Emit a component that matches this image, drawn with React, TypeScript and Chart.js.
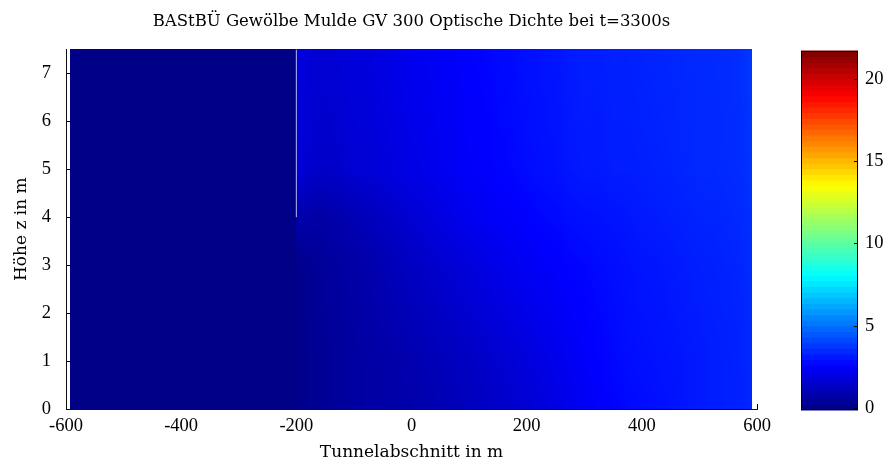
import React, { useEffect, useRef } from "react";
import { Chart, registerables } from "chart.js";

Chart.register(...registerables);

// ---- data -----------------------------------------------------------
const TITLE = "BAStBÜ Gewölbe Mulde GV 300 Optische Dichte bei t=3300s";
const X_LABEL = "Tunnelabschnitt in m";
const Y_LABEL = "Höhe z in m";

const X_TICKS = [-600, -400, -200, 0, 200, 400, 600];
const Y_TICKS = [0, 1, 2, 3, 4, 5, 6, 7];
const CB_TICKS = [0, 5, 10, 15, 20];
const C_MIN = -0.12;
const C_MAX = 21.7;

// tunnel positions (m) of the grid columns
const X_NODES = [-593, -201, -199, -175, -150, -125, -100, -75, -50, -25, 0, 25, 50, 75, 100, 125, 150, 175, 200, 225, 250, 275, 300, 325, 350, 375, 400, 425, 450, 475, 500, 525, 550, 575, 591];
// heights (m) of the grid rows
const Z_NODES = [0, 1, 3, 4, 5, 7.5];

// optical density per row
const OD_Z0 = [0.05, 0.05, 0.15, 0.26, 0.37, 0.48, 0.585, 0.64, 0.7, 0.75, 0.8, 0.9, 1.0, 1.1, 1.22, 1.32, 1.44, 1.55, 1.65, 1.82, 2.0, 2.2, 2.39, 2.52, 2.65, 2.75, 2.82, 2.9, 2.98, 3.06, 3.14, 3.2, 3.25, 3.3, 3.4];
const OD_Z1 = [0.05, 0.05, 0.15, 0.26, 0.37, 0.5, 0.585, 0.66, 0.74, 0.82, 0.9, 1.0, 1.12, 1.22, 1.33, 1.45, 1.6, 1.72, 1.86, 2.02, 2.18, 2.36, 2.5, 2.62, 2.74, 2.85, 2.93, 2.98, 3.03, 3.08, 3.14, 3.2, 3.26, 3.34, 3.45];
const OD_Z3 = [0.05, 0.05, 0.15, 0.32, 0.48, 0.6, 0.69, 0.85, 1.0, 1.15, 1.33, 1.45, 1.6, 1.72, 1.86, 2.0, 2.14, 2.26, 2.39, 2.48, 2.55, 2.66, 2.71, 2.8, 2.86, 2.95, 3.03, 3.06, 3.12, 3.18, 3.24, 3.28, 3.34, 3.42, 3.55];
const OD_Z4 = [0.05, 0.05, 0.9, 0.72, 0.69, 0.85, 1.01, 1.15, 1.3, 1.48, 1.65, 1.8, 1.98, 2.12, 2.29, 2.35, 2.46, 2.52, 2.61, 2.7, 2.76, 2.86, 2.93, 2.95, 3.02, 3.06, 3.14, 3.18, 3.24, 3.28, 3.35, 3.36, 3.42, 3.48, 3.6];
const OD_Z5 = [0.05, 0.05, 1.85, 1.55, 1.44, 1.55, 1.65, 1.72, 1.84, 1.95, 2.07, 2.15, 2.3, 2.38, 2.5, 2.55, 2.66, 2.72, 2.82, 2.9, 2.96, 3.08, 3.14, 3.12, 3.2, 3.2, 3.24, 3.3, 3.34, 3.4, 3.46, 3.45, 3.5, 3.55, 3.7];
const OD_Z75 = [0.05, 0.05, 1.95, 1.72, 1.65, 1.78, 1.86, 1.92, 2.02, 2.12, 2.29, 2.33, 2.45, 2.5, 2.61, 2.66, 2.78, 2.82, 2.93, 3.0, 3.05, 3.16, 3.24, 3.22, 3.3, 3.28, 3.35, 3.38, 3.4, 3.44, 3.46, 3.5, 3.52, 3.62, 3.8];
const OD_ROWS = [OD_Z0, OD_Z1, OD_Z3, OD_Z4, OD_Z5, OD_Z75];

// thin gap line in the measurement grid
const GAP_X = [-200, -200];
const GAP_Z = [4, 7.5];

// ---- helpers ---------------------------------------------------------
const TICK_FONT = "'Liberation Serif', serif";
const TEXT_FONT = "'DejaVu Serif', serif";

function clamp01(v: number) {
  return v < 0 ? 0 : v > 1 ? 1 : v;
}
function jet(t: number): [number, number, number] {
  t = clamp01(t);
  const r = clamp01(1.5 - Math.abs(4 * t - 3));
  const g = clamp01(1.5 - Math.abs(4 * t - 2));
  const b = clamp01(1.5 - Math.abs(4 * t - 1));
  return [Math.round(r * 255), Math.round(g * 255), Math.round(b * 255)];
}
function findIdx(arr: number[], v: number) {
  let i = 0;
  while (i < arr.length - 2 && v > arr[i + 1]) i++;
  return i;
}

const heatmapPlugin = {
  id: "heatmap",
  beforeDatasetsDraw(chart: any) {
    const { ctx, chartArea: a, scales } = chart;
    const xs = scales.x;
    const ys = scales.y;
    ctx.save();
    // inward tick marks (lie under the field, like the original)
    ctx.strokeStyle = "#000";
    ctx.lineWidth = 1;
    Y_TICKS.forEach((v) => {
      const py = Math.round(ys.getPixelForValue(v)) + 0.5;
      ctx.beginPath();
      ctx.moveTo(a.left, py);
      ctx.lineTo(a.left + 5, py);
      ctx.stroke();
    });
    X_TICKS.forEach((v) => {
      const px = Math.round(xs.getPixelForValue(v)) + 0.5;
      ctx.beginPath();
      ctx.moveTo(px, a.bottom);
      ctx.lineTo(px, a.bottom - 5);
      ctx.stroke();
    });

    const xa = xs.getPixelForValue(X_NODES[0]);
    const xb = xs.getPixelForValue(X_NODES[X_NODES.length - 1]);
    const ya = ys.getPixelForValue(Z_NODES[Z_NODES.length - 1]);
    const yb = ys.getPixelForValue(Z_NODES[0]);
    const x0 = Math.floor(xa);
    const x1 = Math.ceil(xb);
    const y0 = Math.floor(ya);
    const y1 = Math.ceil(yb);
    const w = x1 - x0;
    const h = y1 - y0;
    const off = document.createElement("canvas");
    off.width = w;
    off.height = h;
    const octx = off.getContext("2d")!;
    const img = octx.createImageData(w, h);
    const xFirst = X_NODES[0];
    const xLast = X_NODES[X_NODES.length - 1];
    for (let j = 0; j < h; j++) {
      let zv = ys.getValueForPixel(y0 + j + 0.5);
      zv = Math.max(Z_NODES[0], Math.min(Z_NODES[Z_NODES.length - 1], zv));
      const r = findIdx(Z_NODES, zv);
      const fz = (zv - Z_NODES[r]) / (Z_NODES[r + 1] - Z_NODES[r]);
      const rowA = OD_ROWS[r];
      const rowB = OD_ROWS[r + 1];
      for (let i = 0; i < w; i++) {
        const xv = xs.getValueForPixel(x0 + i + 0.5);
        const k = (j * w + i) * 4;
        if (xv < xFirst - 0.3 || xv > xLast + 0.3) {
          img.data[k + 3] = 0;
          continue;
        }
        const xc = Math.max(xFirst, Math.min(xLast, xv));
        const c = findIdx(X_NODES, xc);
        const fx = (xc - X_NODES[c]) / (X_NODES[c + 1] - X_NODES[c]);
        const top = rowB[c] * (1 - fx) + rowB[c + 1] * fx;
        const bot = rowA[c] * (1 - fx) + rowA[c + 1] * fx;
        const v = bot * (1 - fz) + top * fz;
        const [cr, cg, cb] = jet((v - C_MIN) / (C_MAX - C_MIN));
        img.data[k] = cr;
        img.data[k + 1] = cg;
        img.data[k + 2] = cb;
        img.data[k + 3] = 255;
      }
    }
    octx.putImageData(img, 0, 0);
    ctx.drawImage(off, x0, y0);
    ctx.restore();
  },
};

const colorbarPlugin = {
  id: "colorbar",
  beforeDatasetsDraw(chart: any) {
    const { ctx, chartArea: a, scales } = chart;
    const ys = scales.y;
    const n = 64;
    ctx.save();
    for (let k = 0; k < n; k++) {
      const v0 = C_MIN + (k * (C_MAX - C_MIN)) / n;
      const v1 = C_MIN + ((k + 1) * (C_MAX - C_MIN)) / n;
      const p0 = ys.getPixelForValue(v0);
      const p1 = ys.getPixelForValue(v1);
      const [r, g, b] = jet((k + 0.5) / n);
      ctx.fillStyle = `rgb(${r},${g},${b})`;
      ctx.fillRect(a.left, p1 - 0.5, a.right - a.left, p0 - p1 + 1);
    }
    ctx.strokeStyle = "#000";
    ctx.lineWidth = 1;
    ctx.strokeRect(Math.round(a.left) + 0.5, Math.round(a.top) + 0.5, Math.round(a.right - a.left) - 1, Math.round(a.bottom - a.top) - 1);
    CB_TICKS.forEach((v) => {
      const py = Math.round(ys.getPixelForValue(v)) + 0.5;
      ctx.beginPath();
      ctx.moveTo(a.right - 4, py);
      ctx.lineTo(a.right, py);
      ctx.stroke();
    });
    ctx.restore();
  },
};

export default function App() {
  const mainRef = useRef<HTMLCanvasElement>(null);
  const cbRef = useRef<HTMLCanvasElement>(null);

  useEffect(() => {
    const tickFont = { family: TICK_FONT, size: 18.5, weight: "normal" as const };
    const titleFont = { family: TEXT_FONT, size: 16.5, weight: "normal" as const };
    const axisFont = { family: TEXT_FONT, size: 17, weight: "normal" as const };
    const main = new Chart(mainRef.current!, {
      type: "scatter",
      data: {
        datasets: [
          {
            type: "line",
            data: GAP_X.map((x, i) => ({ x, y: GAP_Z[i] })),
            borderColor: "rgb(185,185,235)",
            borderWidth: 1,
            pointRadius: 0,
            showLine: true,
          } as any,
        ],
      },
      options: {
        animation: false,
        responsive: false,
        devicePixelRatio: 1,
        events: [],
        layout: { padding: { left: 8, right: 53, top: 0, bottom: 0 } },
        plugins: {
          legend: { display: false },
          tooltip: { enabled: false },
          title: {
            display: true,
            fullSize: false,
            text: TITLE,
            color: "#000",
            font: titleFont,
            padding: { top: 12, bottom: 17.6 },
          },
        },
        scales: {
          x: {
            type: "linear",
            min: -600,
            max: 600,
            afterBuildTicks: (s: any) => {
              s.ticks = X_TICKS.map((v) => ({ value: v }));
            },
            afterFit: (s: any) => {
              s.height = 55;
            },
            grid: { display: false, drawTicks: false },
            border: { display: true, color: "#111", width: 1, z: 1 },
            ticks: { color: "#000", font: tickFont, padding: 6, maxRotation: 0, autoSkip: false },
            title: { display: true, text: X_LABEL, color: "#000", font: axisFont, padding: { top: 0, bottom: 1.5 } },
          },
          y: {
            type: "linear",
            min: 0,
            max: 7.5,
            afterBuildTicks: (s: any) => {
              s.ticks = Y_TICKS.map((v) => ({ value: v }));
            },
            afterFit: (s: any) => {
              s.width = 58;
            },
            grid: { display: false, drawTicks: false },
            border: { display: true, color: "#111", width: 1, z: 1 },
            ticks: { color: "#000", font: tickFont, padding: 15, autoSkip: false },
            title: { display: true, text: Y_LABEL, color: "#000", font: axisFont, padding: { top: 3.5, bottom: 0 } },
          },
        },
      },
      plugins: [heatmapPlugin],
    } as any);

    const cb = new Chart(cbRef.current!, {
      type: "scatter",
      data: { datasets: [] },
      options: {
        animation: false,
        responsive: false,
        devicePixelRatio: 1,
        events: [],
        layout: { padding: { left: 21, right: 0, top: 51, bottom: 54 } },
        plugins: { legend: { display: false }, tooltip: { enabled: false } },
        scales: {
          x: { display: false, min: 0, max: 1 },
          y: {
            position: "right",
            min: C_MIN,
            max: C_MAX,
            afterBuildTicks: (s: any) => {
              s.ticks = CB_TICKS.map((v) => ({ value: v }));
            },
            afterFit: (s: any) => {
              s.width = 30;
            },
            grid: { display: false, drawTicks: false },
            border: { display: false },
            ticks: { color: "#000", font: tickFont, padding: 7, autoSkip: false },
          },
        },
      },
      plugins: [colorbarPlugin],
    } as any);

    return () => {
      main.destroy();
      cb.destroy();
    };
  }, []);

  return (
    <div style={{ position: "fixed", left: 0, top: 0, width: 888, height: 464, background: "#fff", overflow: "hidden" }}>
      <canvas ref={mainRef} width={810} height={464} style={{ position: "absolute", left: 0, top: 0, width: 810, height: 464 }} />
      <canvas ref={cbRef} width={108} height={464} style={{ position: "absolute", left: 780, top: 0, width: 108, height: 464 }} />
    </div>
  );
}
